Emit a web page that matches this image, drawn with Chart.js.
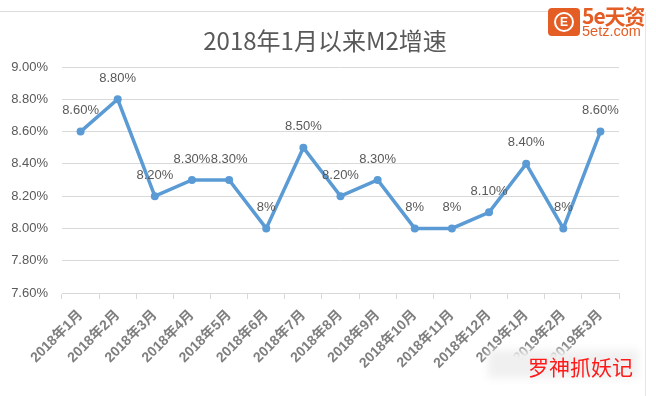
<!DOCTYPE html>
<html lang="zh">
<head>
  <meta charset="UTF-8" />
  <title>2018年1月以来M2增速</title>
  <script src="https://cdn.jsdelivr.net/npm/chart.js"></script>
  <style>
    body { margin: 0; background: #fff; }
    .wrap { position: relative; width: 656px; height: 396px; overflow: hidden; }
    .frame-top { position: absolute; left: 0; top: 11px; width: 548px; height: 0; border-top: 1px solid #dcdcdc; }
    .frame-right { position: absolute; left: 645px; top: 12px; width: 0; height: 384px; border-left: 1px solid #e6e6e6; }
    .logo { position: absolute; left: 548px; top: 8px; width: 32px; height: 28px; border-radius: 4px; background: #e45d24; }
    .logo span { position: absolute; left: 6px; top: 4px; width: 16px; height: 16px; border: 2px solid #fff; border-radius: 50%;
      color: #fff; font: bold 12px "Liberation Sans", sans-serif; text-align: center; line-height: 16px; }
    .brand { position: absolute; left: 582px; top: 4px; color: #e45d24; font: bold 21px "Noto Sans CJK SC", sans-serif; line-height: 22px; letter-spacing: -1px; }
    .site { position: absolute; left: 582px; top: 24px; color: #e45d24; font: 14.5px "Liberation Sans", sans-serif; line-height: 14px; }
    .blur { position: absolute; left: 488px; top: 350px; width: 150px; height: 28px; background: #f0f0f0; filter: blur(4px); }
    .mark { position: absolute; left: 528px; top: 352px; color: #ff1a1a; font: 21px "Noto Sans CJK SC", sans-serif; line-height: 28px; }
  </style>
</head>
<body>
  <div class="wrap">
    <canvas id="m2Chart" width="656" height="396"></canvas>
    <div class="frame-top"></div>
    <div class="frame-right"></div>
    <div class="logo"><span>E</span></div>
    <div class="brand">5e天资</div>
    <div class="site">5etz.com</div>
    <div class="blur"></div>
    <div class="mark">罗神抓妖记</div>
  </div>

  <script>
    const title = '2018年1月以来M2增速';
    const months = ['2018年1月', '2018年2月', '2018年3月', '2018年4月', '2018年5月', '2018年6月', '2018年7月',
      '2018年8月', '2018年9月', '2018年10月', '2018年11月', '2018年12月', '2019年1月', '2019年2月', '2019年3月'];
    const m2Growth = [8.6, 8.8, 8.2, 8.3, 8.3, 8.0, 8.5, 8.2, 8.3, 8.0, 8.0, 8.1, 8.4, 8.0, 8.6];
    const yMin = 7.6, yMax = 9.0, yStep = 0.2;

    const fontFamily = '"Liberation Sans", "Noto Sans CJK SC", sans-serif';

    function pctLabel(v) {
      return Number.isInteger(v) ? v + '%' : v.toFixed(2) + '%';
    }

    // title + point labels (no datalabels plugin available offline)
    const extras = {
      id: 'extras',
      afterDatasetsDraw(chart) {
        const ctx = chart.ctx;
        ctx.save();
        ctx.fillStyle = '#595959';
        ctx.font = '13px ' + fontFamily;
        ctx.textAlign = 'center';
        ctx.textBaseline = 'middle';
        chart.getDatasetMeta(0).data.forEach((pt, i) => {
          ctx.fillText(pctLabel(m2Growth[i]), pt.x, pt.y - 21);
        });
        ctx.font = '24px "Noto Sans CJK SC", sans-serif';
        ctx.fillText(title, 325, 41);
        ctx.restore();
      }
    };

    new Chart(document.getElementById('m2Chart'), {
      type: 'line',
      data: {
        labels: months,
        datasets: [{
          data: m2Growth,
          borderColor: '#5b9bd5',
          backgroundColor: '#5b9bd5',
          borderWidth: 3.5,
          pointRadius: 4,
          pointBorderWidth: 0,
          tension: 0
        }]
      },
      options: {
        responsive: false,
        animation: false,
        layout: { padding: { top: 67, right: 37, bottom: 0, left: 0 } },
        plugins: {
          legend: { display: false },
          tooltip: { enabled: false }
        },
        scales: {
          x: {
            offset: true,
            grid: { offset: true, drawOnChartArea: false, color: '#d9d9d9', tickLength: 6 },
            border: { color: '#d9d9d9' },
            ticks: {
              autoSkip: false, maxRotation: 45, minRotation: 45,
              color: '#7f7f7f', padding: 8,
              font: { family: fontFamily, size: 14, weight: 'bold' }
            },
            afterFit(axis) { axis.height = 103; }
          },
          y: {
            min: yMin, max: yMax,
            grid: { color: '#d9d9d9', drawTicks: false },
            border: { display: false },
            ticks: {
              stepSize: yStep, padding: 14, color: '#595959',
              font: { family: fontFamily, size: 13 },
              callback: v => v.toFixed(2) + '%'
            },
            afterFit(axis) { axis.width = 62; }
          }
        }
      },
      plugins: [extras]
    });
  </script>
</body>
</html>
